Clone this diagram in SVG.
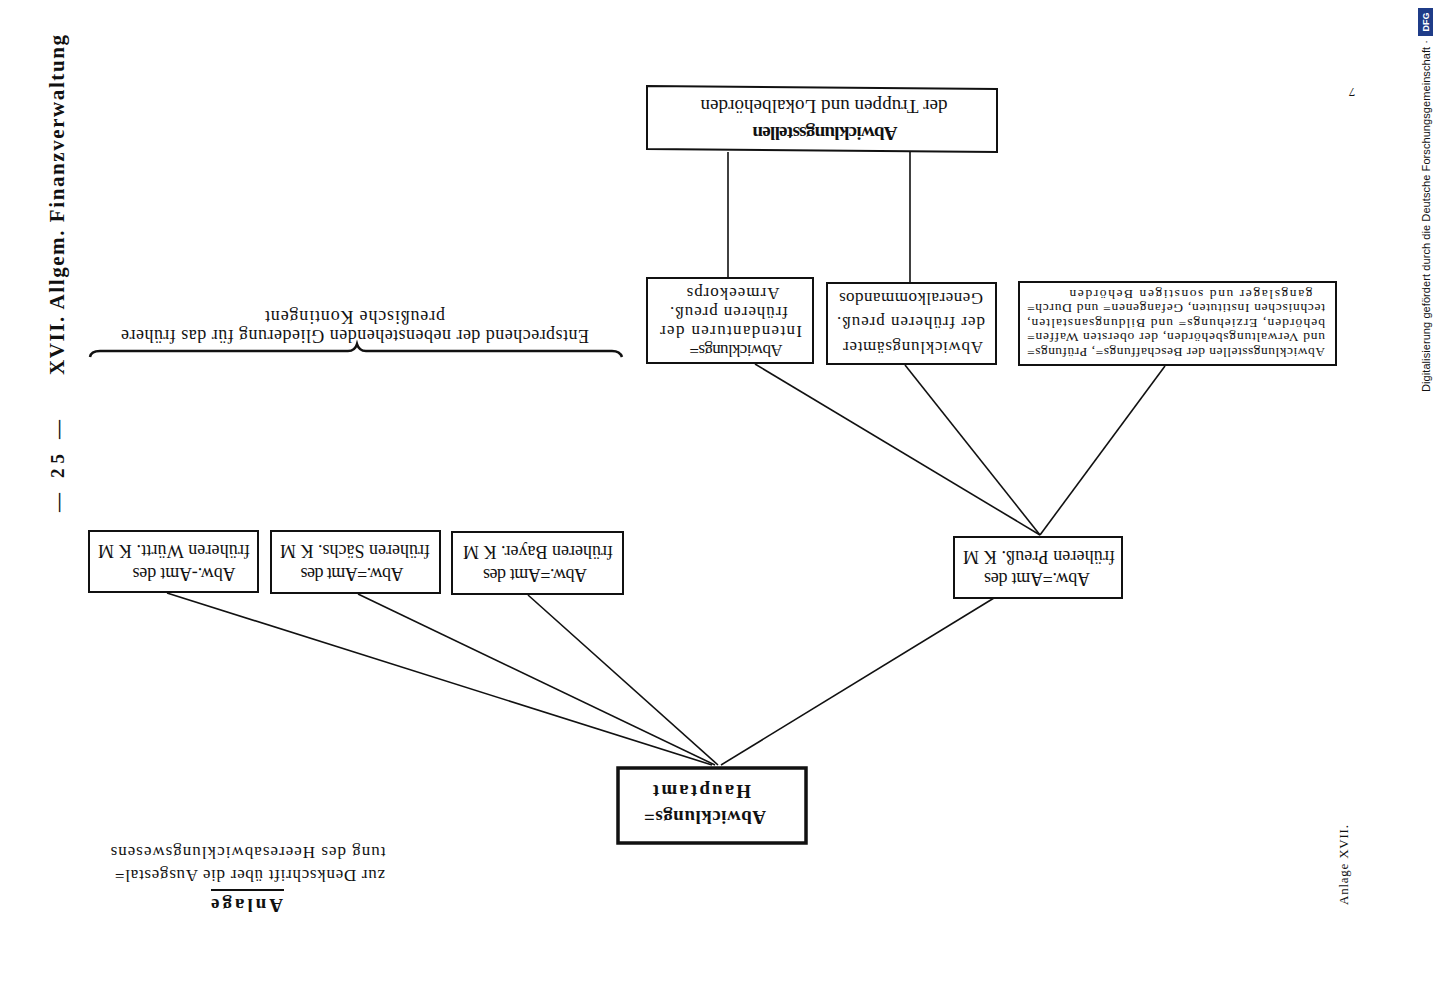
<svg xmlns="http://www.w3.org/2000/svg" width="1434" height="1000" viewBox="0 0 1434 1000">
<style>
.box{fill:#fff;stroke:#111;stroke-width:2}
.main{fill:#fff;stroke:#111;stroke-width:3.5}
.con{stroke:#111;stroke-width:1.6;fill:none}
text{font-family:"Liberation Serif","DejaVu Serif",serif;fill:#111;dominant-baseline:central;text-anchor:middle}
.t15{font-size:17px}
.t16{font-size:18px}
.t17{font-size:19px}
.t12{font-size:13.5px}
.b{font-weight:bold}
</style>
<rect width="1434" height="1000" fill="#fff"/>

<g id="connectors">
  <line class="con" x1="728" y1="152" x2="728" y2="278"/>
  <line class="con" x1="910" y1="152" x2="910" y2="283"/>
  <line class="con" x1="755" y1="364" x2="1040" y2="535"/>
  <line class="con" x1="905" y1="365" x2="1040" y2="535"/>
  <line class="con" x1="1165" y1="366" x2="1040" y2="535"/>
  <line class="con" x1="167" y1="593" x2="712" y2="765"/>
  <line class="con" x1="358" y1="594" x2="715" y2="765"/>
  <line class="con" x1="528" y1="595" x2="718" y2="765"/>
  <line class="con" x1="994" y1="598" x2="721" y2="765"/>
</g>

<g id="node-truppen">
  <polygon class="box" points="647,86 997,89 997,152 647,149"/>
  <text class="t17" x="824" y="106" textLength="247" lengthAdjust="spacing" transform="rotate(180 824 106)">der Truppen und Lokalbehörden</text>
  <text class="t17 b" x="825" y="133" textLength="145" lengthAdjust="spacing" transform="rotate(180 825 133)">Abwicklungsstellen</text>
</g>

<g id="node-intendanturen">
  <rect class="box" x="647" y="278" width="166" height="85"/>
  <text class="t15" x="733" y="293" textLength="93" lengthAdjust="spacing" transform="rotate(180 733 293)">Armeekorps</text>
  <text class="t15" x="729" y="312" textLength="118" lengthAdjust="spacing" transform="rotate(180 729 312)">früheren preuß.</text>
  <text class="t15" x="731" y="331" textLength="142" lengthAdjust="spacing" transform="rotate(180 731 331)">Intendanturen der</text>
  <text class="t15" x="736" y="350" textLength="93" lengthAdjust="spacing" transform="rotate(180 736 350)">Abwicklungs=</text>
</g>

<g id="node-generalkommandos">
  <rect class="box" x="827" y="283" width="169" height="81"/>
  <text class="t15" x="911" y="298" textLength="144" lengthAdjust="spacing" transform="rotate(180 911 298)">Generalkommandos</text>
  <text class="t15" x="911" y="322" textLength="148" lengthAdjust="spacing" transform="rotate(180 911 322)">der früheren preuß.</text>
  <text class="t15" x="913" y="347" textLength="140" lengthAdjust="spacing" transform="rotate(180 913 347)">Abwicklungsämter</text>
</g>

<g id="node-beschaffung">
  <rect class="box" x="1019" y="282" width="317" height="83"/>
  <text class="t12" x="1191" y="294" textLength="243" lengthAdjust="spacing" transform="rotate(180 1191 294)">gangslager und sonstigen Behörden</text>
  <text class="t12" x="1176" y="308.5" textLength="298" lengthAdjust="spacing" transform="rotate(180 1176 308.5)">technischen Instituten, Gefangenen= und Durch=</text>
  <text class="t12" x="1176" y="323" textLength="298" lengthAdjust="spacing" transform="rotate(180 1176 323)">behörden, Erziehungs= und Bildungsanstalten,</text>
  <text class="t12" x="1176" y="337.5" textLength="298" lengthAdjust="spacing" transform="rotate(180 1176 337.5)">und Verwaltungsbehörden, der obersten Waffen=</text>
  <text class="t12" x="1176" y="352" textLength="298" lengthAdjust="spacing" transform="rotate(180 1176 352)">Abwicklungsstellen der Beschaffungs=, Prüfungs=</text>
</g>

<g id="node-preussen">
  <rect class="box" x="954" y="537" width="168" height="61"/>
  <text class="t16" x="1039" y="557" textLength="152" lengthAdjust="spacing" transform="rotate(180 1039 557)">früheren Preuß. K M</text>
  <text class="t16" x="1037" y="579" textLength="106" lengthAdjust="spacing" transform="rotate(180 1037 579)">Abw.=Amt des</text>
</g>

<g id="node-wuerttemberg">
  <rect class="box" x="89" y="531" width="169" height="61"/>
  <text class="t16" x="174" y="551" textLength="152" lengthAdjust="spacing" transform="rotate(180 174 551)">früheren Württ. K M</text>
  <text class="t16" x="184" y="574" textLength="103" lengthAdjust="spacing" transform="rotate(180 184 574)">Abw.-Amt des</text>
</g>

<g id="node-sachsen">
  <rect class="box" x="271" y="531" width="169" height="62"/>
  <text class="t16" x="355" y="551" textLength="150" lengthAdjust="spacing" transform="rotate(180 355 551)">früheren Sächs. K M</text>
  <text class="t16" x="352" y="574" textLength="103" lengthAdjust="spacing" transform="rotate(180 352 574)">Abw.=Amt des</text>
</g>

<g id="node-bayern">
  <rect class="box" x="452" y="532" width="171" height="62"/>
  <text class="t16" x="538" y="552" textLength="150" lengthAdjust="spacing" transform="rotate(180 538 552)">früheren Bayer. K M</text>
  <text class="t16" x="535" y="575" textLength="104" lengthAdjust="spacing" transform="rotate(180 535 575)">Abw.=Amt des</text>
</g>

<g id="node-hauptamt">
  <rect class="main" x="618" y="768" width="188" height="75"/>
  <text class="t17 b" x="702" y="791" textLength="98" lengthAdjust="spacing" transform="rotate(180 702 791)">Hauptamt</text>
  <text class="t17 b" x="705" y="817" textLength="122" lengthAdjust="spacing" transform="rotate(180 705 817)">Abwicklungs=</text>
</g>

<g id="brace-note">
  <path d="M90,357 Q91,351 100,351 L348,351 Q355,351 357,344 Q359,351 366,351 L612,351 Q620,351 622,357" fill="none" stroke="#111" stroke-width="2.5"/>
  <text class="t16" x="355" y="317" textLength="180" lengthAdjust="spacing" transform="rotate(180 355 317)">preußische Kontingent</text>
  <text class="t16" x="355" y="336" textLength="468" lengthAdjust="spacing" transform="rotate(180 355 336)">Entsprechend der nebenstehenden Gliederung für das frühere</text>
</g>

<g id="anlage-note">
  <text class="t15" x="248" y="852" textLength="275" lengthAdjust="spacing" transform="rotate(180 248 852)">tung des Heeresabwicklungswesens</text>
  <text class="t15" x="250" y="875" textLength="270" lengthAdjust="spacing" transform="rotate(180 250 875)">zur Denkschrift über die Ausgestal=</text>
  <line x1="211" y1="890" x2="284" y2="890" stroke="#111" stroke-width="2"/>
  <text class="t17 b" x="247" y="905" textLength="72" lengthAdjust="spacing" transform="rotate(180 247 905)">Anlage</text>
</g>

<g id="margins">
  <text class="b" font-size="19" x="57" y="466" textLength="92" lengthAdjust="spacing" transform="rotate(-90 57 466)">— 25 —</text>
  <text class="b" font-size="21" x="57" y="205" textLength="340" lengthAdjust="spacing" transform="rotate(-90 57 205)">XVII. Allgem. Finanzverwaltung</text>
  <text font-size="13" x="1352" y="92" transform="rotate(180 1352 92)">7</text>
  <text font-size="13" x="1343" y="865" textLength="80" lengthAdjust="spacing" transform="rotate(-90 1343 865)">Anlage XVII.</text>
  <text font-size="11" x="1426" y="216" textLength="352" lengthAdjust="spacing" transform="rotate(-90 1426 216)" style="font-family:'Liberation Sans',Arial,sans-serif">Digitalisierung gefördert durch die Deutsche Forschungsgemeinschaft ·</text>
  <rect x="1418" y="8" width="15" height="28" fill="#1f3c88"/>
  <text font-size="9" x="1425.5" y="22" transform="rotate(-90 1425.5 22)" style="font-family:'Liberation Sans',Arial,sans-serif;fill:#fff;font-weight:bold">DFG</text>
</g>
</svg>
